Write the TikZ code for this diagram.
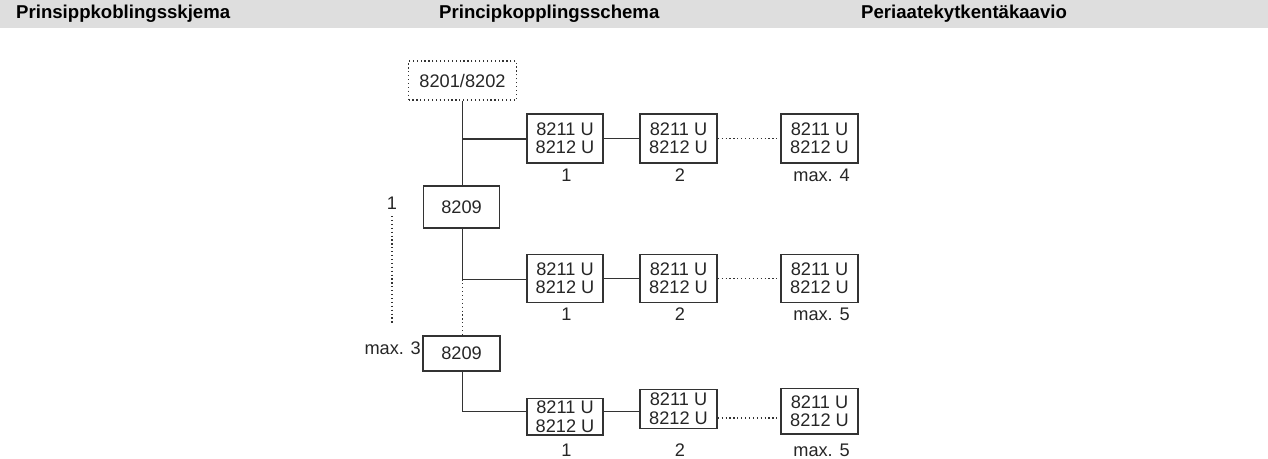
\documentclass[tikz,border=0pt]{standalone}
\usepackage{fontspec}
\setmainfont{Liberation Sans}
\begin{document}
\begin{tikzpicture}[x=1pt,y=-1pt,
  ln/.style={draw=black!80, line width=1.5pt},
  dots/.style={draw=black!80, line width=1.4pt, dash pattern=on 1.2pt off 2.7pt},
  hdr/.style={font=\fontsize{18.6}{20}\selectfont\bfseries, anchor=base west, inner sep=0pt, text=black},
  box/.style={ln, inner sep=0pt, align=center, minimum width=76pt, font=\fontsize{18.2}{18.3}\selectfont, text=black!85},
  lbl/.style={anchor=base, inner sep=0pt, font=\fontsize{18.2}{18}\selectfont, text=black!85}]
\useasboundingbox (0,0) rectangle (1268,458);
\definecolor{hdrgray}{RGB}{222,222,222}
\fill[hdrgray] (0,0) rectangle (1268,27.5);
\node[hdr] (h1) at (16,18.3) {Prinsippkoblingsskjema};
\node[hdr] (h2) at (439,18.3) {Principkopplingsschema};
\node[hdr] (h3) at (861,18.3) {Periaatekytkentäkaavio};

% central units
\node[box, dots, minimum width=108pt, minimum height=39pt] (top) at (462.5,80.5) {8201/8202};
\node[box, minimum height=42pt] (m1) at (461.5,207) {8209};
\node[box, minimum width=77pt, minimum height=35pt] (m2) at (461.5,353.5) {8209};

% row 1
\node[box, minimum height=49pt] (r1a) at (565,138.5) {8211 U\\8212 U};
\node[box, minimum width=77pt, minimum height=49pt] (r1b) at (678.5,138.5) {8211 U\\8212 U};
\node[box, minimum width=77pt, minimum height=49pt] (r1c) at (819.5,138.5) {8211 U\\8212 U};
\node[lbl] (l1a) at (566.5,181.7) {1};
\node[lbl] (l1b) at (680,181.7) {2};
\node[lbl] (l1c) at (821.5,181.7) {max. 4};

% row 2
\node[box, minimum height=48.4pt] (r2a) at (565,278.5) {8211 U\\8212 U};
\node[box, minimum width=77pt, minimum height=48.4pt] (r2b) at (678.5,278.5) {8211 U\\8212 U};
\node[box, minimum width=77pt, minimum height=48.4pt] (r2c) at (819.5,278.5) {8211 U\\8212 U};
\node[lbl] (l2a) at (566.5,320.5) {1};
\node[lbl] (l2b) at (680,320.5) {2};
\node[lbl] (l2c) at (821.5,320.5) {max. 5};

% row 3
\node[box, minimum height=36.7pt] (r3a) at (565,416.7) {8211 U\\8212 U};
\node[box, minimum width=77pt, minimum height=39pt] (r3b) at (678.5,408.8) {8211 U\\8212 U};
\node[box, minimum width=77pt, minimum height=45.7pt] (r3c) at (819.5,411.2) {8211 U\\8212 U};
\node[lbl] (l3a) at (566.5,456.5) {1};
\node[lbl] (l3b) at (680,456.5) {2};
\node[lbl] (l3c) at (821.5,456.5) {max. 5};

% left count
\node[lbl] (c1) at (392,209) {1};
\node[lbl, anchor=base east] (c3) at (421,354.3) {max. 3};
\coordinate (v1) at (392,216);
\coordinate (v2) at (392,324);
\draw[dots] (v1) -- (v2);

% trunk and branches
\coordinate (j1) at (462.5,139);
\coordinate (j2) at (462.5,279.3);
\coordinate (j3) at (462.5,411.5);
\coordinate (d3) at (750,418);
\draw[ln] (top.south) -- (top.south |- m1.north);
\draw[ln] (j1) -- (r1a.west |- j1);
\draw[ln] (r1a.east) -- (r1b.west);
\draw[dots] (r1b.east) -- (r1c.west);

\draw[ln] (j2 |- m1.south) -- (j2) -- (r2a.west |- j2);
\draw[ln] (r2a.east) -- (r2b.west);
\draw[dots] (r2b.east) -- (r2c.west);
\draw[dots] (j2) -- (j2 |- m2.north);

\draw[ln] (j3 |- m2.south) -- (j3) -- (r3a.west |- j3);
\draw[ln] (r3a.east |- j3) -- (r3b.west |- j3);
\draw[dots] (r3b.east |- d3) -- (r3c.west |- d3);
\end{tikzpicture}
\end{document}
